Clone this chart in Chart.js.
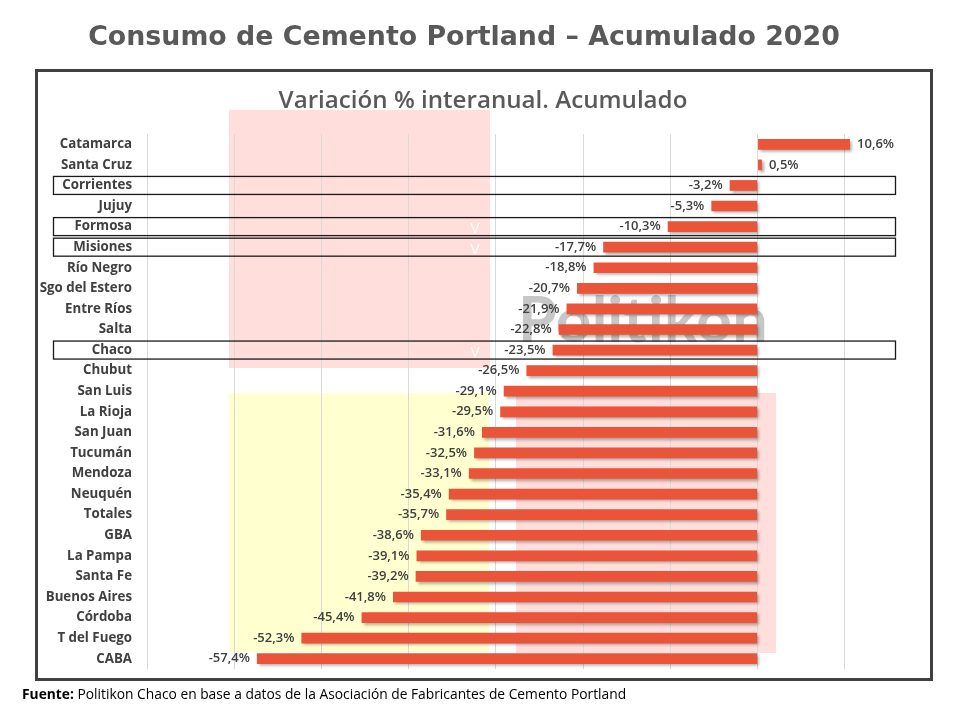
<!DOCTYPE html>
<html>
<head>
<meta charset="utf-8">
<script src="https://cdn.jsdelivr.net/npm/chart.js@4.4.1/dist/chart.umd.min.js"></script>
<style>
  html, body { margin: 0; padding: 0; background: #fff; }
  #wrap { position: relative; width: 960px; height: 720px; }
</style>
</head>
<body>
<div id="wrap"><canvas id="cementoChart" width="960" height="720"></canvas></div>
<script>
// provincias, ordenadas como en el grafico original
var provincias = ["Catamarca","Santa Cruz","Corrientes","Jujuy","Formosa","Misiones","Río Negro",
    "Sgo del Estero","Entre Ríos","Salta","Chaco","Chubut","San Luis","La Rioja","San Juan",
    "Tucumán","Mendoza","Neuquén","Totales","GBA","La Pampa","Santa Fe","Buenos Aires",
    "Córdoba","T del Fuego","CABA"];
var variacion = [10.6,0.5,-3.2,-5.3,-10.3,-17.7,-18.8,-20.7,-21.9,-22.8,-23.5,-26.5,-29.1,
    -29.5,-31.6,-32.5,-33.1,-35.4,-35.7,-38.6,-39.1,-39.2,-41.8,-45.4,-52.3,-57.4];
var destacadas = ["Corrientes","Formosa","Misiones","Chaco"];
var marcadasV = ["Formosa","Misiones","Chaco"];

var tituloPrincipal = "Consumo de Cemento Portland \u2013 Acumulado 2020";
var subtitulo = "Variación % interanual. Acumulado";
var fuente = " Politikon Chaco en base a datos de la Asociación de Fabricantes de Cemento Portland";

function fmt(v) {
    return v.toFixed(1).replace(".", ",") + "%";
}

// busca el tamaño de letra que da el ancho pedido
function fitFont(c, text, weight, family, width) {
    var size = 10;
    c.font = weight + " " + size + "px " + family;
    var w = c.measureText(text).width;
    size = size * width / w;
    c.font = weight + " " + size.toFixed(2) + "px " + family;
}

var fondoPlugin = {
    id: "fondo",
    beforeDraw: function(chart) {
        var c = chart.ctx;
        c.save();
        c.fillStyle = "#ffffff";
        c.fillRect(0, 0, 960, 720);
        // bloques de la marca de agua
        c.fillStyle = "rgba(255, 205, 200, 0.65)";
        c.fillRect(229, 110, 261, 258);
        c.fillRect(516, 393, 260, 260);
        c.fillStyle = "rgba(255, 255, 195, 0.8)";
        c.fillRect(229, 393, 260, 259);

        c.fillStyle = "#595959";
        c.textAlign = "center";
        c.textBaseline = "alphabetic";
        fitFont(c, tituloPrincipal, "bold", "'DejaVu Sans'", 752);
        c.fillText(tituloPrincipal, 464, 45);
        fitFont(c, subtitulo, "600", "'Open Sans'", 409);
        c.fillText(subtitulo, 483, 108);

        c.textAlign = "left";
        c.fillStyle = "#000";
        c.font = "bold 13.8px 'Open Sans'";
        c.fillText("Fuente:", 22, 699);
        var w = c.measureText("Fuente:").width;
        c.font = "13.8px 'Open Sans'";
        c.fillText(fuente, 22 + w, 699);
        c.restore();
    },
    beforeDatasetsDraw: function(chart) {
        var c = chart.ctx;
        var y = chart.scales.y;
        c.save();
        c.fillStyle = "rgba(100, 100, 100, 0.36)";
        c.font = "bold 63px Lato";
        c.textAlign = "left";
        c.textBaseline = "alphabetic";
        c.fillText("Politikon", 518, 342);
        // "V" blancas
        c.fillStyle = "#ffffff";
        c.font = "14px Lato";
        c.textAlign = "center";
        c.textBaseline = "middle";
        marcadasV.forEach(function(p) {
            c.fillText("V", 475, y.getPixelForValue(provincias.indexOf(p)) + 2);
        });
        // sombra de las barras
        c.shadowColor = "rgba(0, 0, 0, 0.35)";
        c.shadowBlur = 3;
        c.shadowOffsetX = 2;
        c.shadowOffsetY = 2;
    },
    afterDatasetsDraw: function(chart) {
        var c = chart.ctx;
        c.restore();
        var meta = chart.getDatasetMeta(0);
        var y = chart.scales.y;
        c.save();
        c.font = "600 13px 'Open Sans'";
        c.fillStyle = "#404040";
        c.textBaseline = "middle";
        meta.data.forEach(function(bar, i) {
            var v = variacion[i];
            if (v < 0) {
                c.textAlign = "right";
                c.fillText(fmt(v), bar.x - 7, bar.y);
            } else {
                c.textAlign = "left";
                c.fillText(fmt(v), bar.x + 7, bar.y);
            }
        });
        // recuadros de provincias destacadas
        c.strokeStyle = "#1a1a1a";
        c.lineWidth = 1.3;
        destacadas.forEach(function(p) {
            var cy = y.getPixelForValue(provincias.indexOf(p));
            c.strokeRect(53.5, cy - 9, 842, 18);
        });
        // marco
        c.strokeStyle = "#404040";
        c.lineWidth = 3;
        c.strokeRect(36.5, 70.5, 895, 609);
        c.restore();
    }
};

var ctx = document.getElementById("cementoChart");
var chart = new Chart(ctx, {
    type: "bar",
    data: {
        labels: provincias,
        datasets: [{
            label: "Variación % interanual",
            data: variacion,
            backgroundColor: "#EA553A",
            borderWidth: 0,
            barPercentage: 0.52,
            categoryPercentage: 1.0
        }]
    },
    options: {
        indexAxis: "y",
        responsive: false,
        animation: false,
        devicePixelRatio: 1,
        layout: { padding: { top: 134, bottom: 51, left: 0, right: 28 } },
        plugins: {
            legend: { display: false },
            title: { display: false },
            tooltip: { enabled: false }
        },
        scales: {
            x: {
                min: -70,
                max: 20,
                ticks: { display: false, stepSize: 10 },
                grid: { color: "#D9D9D9", lineWidth: 1, drawTicks: false },
                border: { display: false },
                afterFit: function(s) { s.height = 0; }
            },
            y: {
                grid: { display: false, drawTicks: false },
                border: { display: false },
                ticks: {
                    padding: 15,
                    color: "#404040",
                    font: { family: "'Open Sans'", weight: "bold", size: 13.3 },
                    autoSkip: false
                },
                afterFit: function(s) { s.width = 147; }
            }
        }
    },
    plugins: [fondoPlugin]
});
</script>
</body>
</html>
